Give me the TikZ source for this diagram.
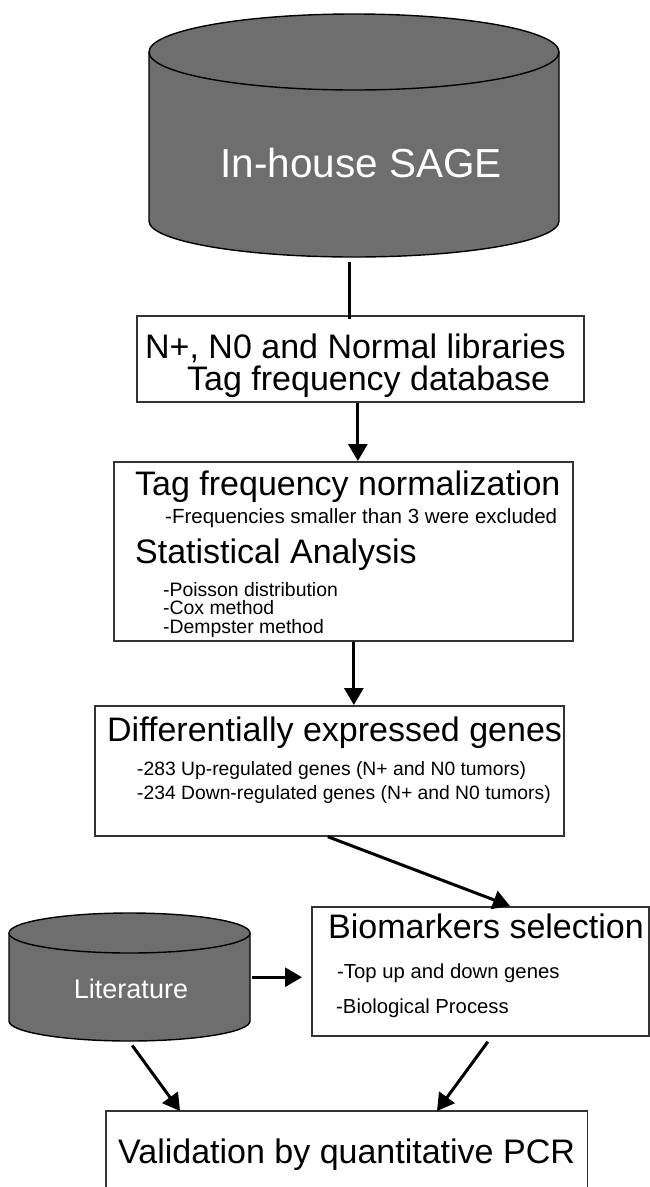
\documentclass[tikz,border=0pt]{standalone}
\usepackage{fontspec}
\setmainfont{Liberation Sans}
\usetikzlibrary{arrows.meta}
\definecolor{cylgray}{HTML}{6E6E6E}
\definecolor{boxline}{HTML}{333333}
\tikzset{
  box/.style={draw=boxline, line width=1.7pt, inner sep=0pt, anchor=north west, fill=white},
  cylfill/.style={fill=cylgray, draw=black, line width=1.4pt},
  cylrim/.style={draw=black, line width=1.4pt},
  area/.style={inner sep=0pt, anchor=north west},
  title/.style={anchor=base west, inner sep=0pt, font=\fontsize{34}{36}\selectfont},
  item/.style={anchor=base west, inner sep=0pt, font=\fontsize{19.4}{20}\selectfont},
  conn/.style={line width=3pt, -{Triangle[length=17pt,width=19pt]}},
  plain/.style={line width=2.6pt},
}
\begin{document}
\begin{tikzpicture}[x=1pt,y=1pt]
\useasboundingbox (0,0) rectangle (650,-1187);

% In-house SAGE cylinder
\path[cylfill] (149,-52) -- (149,-221) arc[start angle=180,end angle=360,x radius=205,y radius=36]
  -- (559,-52) arc[start angle=0,end angle=180,x radius=205,y radius=38] -- cycle;
\path[cylrim] (149,-52) arc[start angle=180,end angle=360,x radius=205,y radius=38];
\node[area, minimum width=410, minimum height=245] (sage) at (149,-13) {};
\node[anchor=base, inner sep=0pt, text=white, font=\fontsize{40.5}{42}\selectfont] (sagetext) at (361,-177) {In-house SAGE};

% Box 1
\node[box, minimum width=447, minimum height=86] (lib) at (136,-315) {};
\node[title] (lib1) at (145,-358) {N+, N0 and Normal libraries};
\node[title] (lib2) at (187,-390) {Tag frequency database};

% Box 2
\node[box, minimum width=459, minimum height=179] (norm) at (113,-461) {};
\node[title] (norm1) at (135,-495) {Tag frequency normalization};
\node[item, font=\fontsize{20.5}{21}\selectfont] (norm2) at (165,-523) {-Frequencies smaller than 3 were excluded};
\node[title] (stat1) at (135,-563) {Statistical Analysis};
\node[item] (stat2) at (163,-596) {-Poisson distribution};
\node[item] (stat3) at (163,-614.5) {-Cox method};
\node[item] (stat4) at (163,-633) {-Dempster method};

% Box 3
\node[box, minimum width=469, minimum height=130] (diff) at (94,-705) {};
\node[title] (diff1) at (107,-741) {Differentially expressed genes};
\node[item, font=\fontsize{19.3}{20}\selectfont] (diff2) at (137,-775) {-283 Up-regulated genes (N+ and N0 tumors)};
\node[item, font=\fontsize{19.3}{20}\selectfont] (diff3) at (137,-799) {-234 Down-regulated genes (N+ and N0 tumors)};

% Biomarkers box
\node[box, minimum width=337, minimum height=129] (bio) at (311,-906) {};
\node[title] (bio1) at (328,-938) {Biomarkers selection};
\node[item, font=\fontsize{20.3}{21}\selectfont] (bio2) at (337,-978) {-Top up and down genes};
\node[item, font=\fontsize{20.3}{21}\selectfont] (bio3) at (336,-1013) {-Biological Process};

% Literature cylinder
\path[cylfill] (9,-933) -- (9,-1021) arc[start angle=180,end angle=360,x radius=120.5,y radius=20]
  -- (250,-933) arc[start angle=0,end angle=180,x radius=120.5,y radius=20] -- cycle;
\path[cylrim] (9,-933) arc[start angle=180,end angle=360,x radius=120.5,y radius=20];
\node[area, minimum width=241, minimum height=128] (lit) at (9,-913) {};
\node[anchor=base, inner sep=0pt, text=white, font=\fontsize{27}{28}\selectfont] (littext) at (131,-998) {Literature};

% Validation box (open at the bottom edge of the picture)
\node[area, minimum width=481, minimum height=76] (valid) at (106,-1111) {};
\draw[boxline, line width=1.7pt] (valid.south west) -- (valid.north west) -- (valid.north east) -- (valid.south east);
\node[title] (valid1) at (118,-1163) {Validation by quantitative PCR};

% Connectors
\draw[plain] ([xshift=-5pt,yshift=-4pt]sage.south) -- ([xshift=-5pt,yshift=-4pt]sage.south |- lib.north);
\draw[conn] ([xshift=-2.5pt]lib.south) -- ([xshift=-2.5pt]lib.south |- norm.north);
\draw[conn] ([xshift=10.5pt]norm.south) -- ([xshift=10.5pt]norm.south |- diff.north);
\draw[conn] ([xshift=-1.5pt]diff.south) -- ([xshift=199pt]bio.north west);
\draw[conn, shorten <=2pt, shorten >=9pt] (lit.east) -- (lit.east -| bio.west);
\draw[conn] ([xshift=2.5pt,yshift=-4pt]lit.south) -- ([xshift=74pt]valid.north west);
\draw[conn] ([xshift=7.5pt,yshift=-5pt]bio.south) -- ([xshift=331pt]valid.north west);
\end{tikzpicture}
\end{document}
